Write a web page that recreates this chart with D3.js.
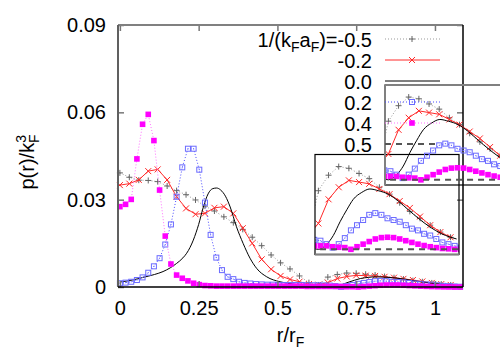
<!DOCTYPE html>
<html>
<head>
<meta charset="utf-8">
<script src="https://cdn.jsdelivr.net/npm/d3@7"></script>
<style>
  body { margin: 0; background: #fff; }
  text { font-family: "Liberation Sans", Arial, sans-serif; }
</style>
</head>
<body>
<div id="chart"></div>
<script>
// r/r_F grids of the data files
var rCoarse = [0, 0.03, 0.06, 0.09, 0.12, 0.15, 0.18, 0.21, 0.24, 0.27, 0.30, 0.33, 0.36, 0.39, 0.42, 0.45, 0.48, 0.51,
  0.54, 0.57, 0.60, 0.63, 0.66, 0.69, 0.72, 0.75, 0.78, 0.81, 0.84, 0.87, 0.90, 0.93, 0.96, 0.99, 1.02, 1.05];
var rFine = [0, 0.018, 0.036, 0.054, 0.072, 0.090, 0.108, 0.126, 0.144, 0.162, 0.180, 0.198, 0.216, 0.234, 0.252,
  0.270, 0.288, 0.306, 0.324, 0.342, 0.360, 0.378, 0.396, 0.414, 0.432, 0.450, 0.468, 0.486, 0.504, 0.522, 0.540,
  0.558, 0.576, 0.594, 0.612, 0.630, 0.648, 0.666, 0.684, 0.702, 0.720, 0.738, 0.756, 0.774, 0.792, 0.810, 0.828,
  0.846, 0.864, 0.882, 0.900, 0.918, 0.936, 0.954, 0.972, 0.990, 1.008, 1.026, 1.044, 1.062, 1.080];
var rSmooth = [0, 0.04, 0.074, 0.11, 0.137, 0.16, 0.18, 0.2, 0.212, 0.233, 0.25, 0.265, 0.28, 0.295, 0.307, 0.32,
  0.335, 0.35, 0.37, 0.391, 0.413, 0.434, 0.466, 0.508, 0.55, 0.593, 0.63, 0.66, 0.685, 0.704, 0.724, 0.744, 0.763,
  0.788, 0.812, 0.837, 0.866, 0.896, 0.925, 0.955, 0.989, 1.024, 1.068];
var rDash = [0.6, 0.7, 0.8, 0.9, 1.0, 1.1];

// p(r)/k_F^3 for each 1/(k_F a_F)
var pMinus05 = [0.0392, 0.0377, 0.0367, 0.0366, 0.0362, 0.0347, 0.0331, 0.0317, 0.0299, 0.0278, 0.0261, 0.0241,
  0.0221, 0.0198, 0.0171, 0.0142, 0.0110, 0.0083, 0.0062, 0.0038, 0.0015, 0.0007, 0.0034, 0.0043, 0.0048, 0.0047,
  0.0044, 0.0041, 0.0036, 0.0032, 0.0027, 0.0022, 0.0018, 0.0014, 0.0010, 0.0007];
var pMinus02 = [0.0350, 0.0355, 0.0368, 0.0398, 0.0404, 0.0368, 0.0310, 0.0270, 0.0250, 0.0253, 0.0272, 0.0276,
  0.0253, 0.0202, 0.0150, 0.0095, 0.0061, 0.0038, 0.0026, 0.0018, 0.0010, 0.0008, 0.0015, 0.0029, 0.0036, 0.0040,
  0.0039, 0.0038, 0.0035, 0.0032, 0.0028, 0.0024, 0.0019, 0.0014, 0.0010, 0.0007];
var pZero = [0.0017, 0.0024, 0.0033, 0.0043, 0.0053, 0.0066, 0.0081, 0.0100, 0.0116, 0.0161, 0.0215, 0.0275,
  0.0320, 0.0338, 0.0340, 0.0333, 0.0312, 0.0275, 0.0207, 0.0150, 0.0099, 0.0064, 0.0035, 0.0018, 0.0010, 0.0006,
  0.0002, 0.0000, 0.0003, 0.0008, 0.0016, 0.0023, 0.0029, 0.0033, 0.0035, 0.0034, 0.0032, 0.0028, 0.0023, 0.0018,
  0.0013, 0.0009, 0.0006];
var pPlus02 = [0.0013, 0.0015, 0.0018, 0.0024, 0.0033, 0.0049, 0.0071, 0.0099, 0.0146, 0.0215,
  0.0310, 0.0411, 0.0475, 0.0475, 0.0403, 0.0290, 0.0179, 0.0101, 0.0058, 0.0035,
  0.0027, 0.0018, 0.0014, 0.0012, 0.0010, 0.0009, 0.0008, 0.0008, 0.0007, 0.0007,
  0.0007, 0.0007, 0.0007, 0.0006, 0.0006, 0.0006,
  0.00055, 0.0005, 0.0003, 0.0001, 0.0003, 0.00065, 0.0011, 0.0014, 0.0017, 0.0020, 0.0021, 0.0020, 0.0018,
  0.0017, 0.0016, 0.0014, 0.0012, 0.0011, 0.0009, 0.0008, 0.0006, 0.0004, 0.0003, 0.0002, 0.0001];
var pPlus04 = [0.0276, 0.0284, 0.0301, 0.0440, 0.0559, 0.0593, 0.0503, 0.0333, 0.0175, 0.0079,
  0.0041, 0.0030, 0.0021, 0.0013, 0.0008, 0.0005, 0.0004, 0.0003, 0.0003, 0.0003,
  0.0003, 0.0003, 0.0003, 0.0003, 0.0003, 0.0003, 0.0003, 0.0003, 0.0003, 0.0003,
  0.0003, 0.0003, 0.0003, 0.0002, 0.0002, 0.0002,
  0.0002, 0.0002, 0.0002, 0.00015, 0.00012, 0.0001, 0, 0.00015, 0.0003, 0.00045, 0.0006, 0.00068, 0.0007,
  0.00068, 0.0006, 0.0005, 0.0004, 0.0003, 0.00022, 0.00015, 0.0001, 0.00005, 0.00003, 0, 0];
var pPlus05 = [0, 0, 0, 0, 0, 0];

var legendLabels = ["-0.5", "-0.2", "0.0", "0.2", "0.4", "0.5"];
var xTicks = [0, 0.25, 0.5, 0.75, 1];
var yTicks = [0, 0.03, 0.06, 0.09];

var width = 500, height = 350;
var mLeft = 118, mRight = 463, mTop = 25, mBottom = 287;

var svg = d3.select("#chart").append("svg")
  .attr("width", width)
  .attr("height", height);

var x = d3.scaleLinear().domain([-0.006, 1.089]).range([mLeft, mRight]);
var y = d3.scaleLinear().domain([0, 0.09]).range([mBottom, mTop]);

function zip(rs, ps) {
  return rs.map(function (r, i) { return [r, ps[i]]; });
}

var series = [
  { r: rCoarse, p: pMinus05, line: "#999", dash: "1,2", mark: "plus", color: "#666" },
  { r: rCoarse, p: pMinus02, line: "#ff2a2a", dash: null, mark: "cross", color: "#ff2a2a" },
  { r: rSmooth, p: pZero, line: "#000", dash: null, mark: null, smooth: true },
  { r: rFine, p: pPlus02, line: "#4b4bff", dash: "1,2", mark: "box", color: "#6b6bff" },
  { r: rFine, p: pPlus04, line: "#ff70ff", dash: "1,2", mark: "fbox", color: "#ff00ff" },
  { r: rDash, p: pPlus05, line: "#555", dash: "6,5", mark: null, width: 2, insetOnly: true }
];

function drawMark(g, kind, color, px, py) {
  if (kind == "plus") {
    g.append("path").attr("d", "M" + (px - 3) + "," + py + "h6M" + px + "," + (py - 3) + "v6")
      .style("stroke", color).style("stroke-width", 1).style("fill", "none");
  } else if (kind == "cross") {
    g.append("path").attr("d", "M" + (px - 3) + "," + (py - 3) + "l6,6M" + (px - 3) + "," + (py + 3) + "l6,-6")
      .style("stroke", color).style("stroke-width", 1).style("fill", "none");
  } else if (kind == "box") {
    g.append("rect").attr("x", px - 2.5).attr("y", py - 2.5).attr("width", 5).attr("height", 5)
      .style("stroke", color).style("stroke-width", 1).style("fill", "none");
    g.append("rect").attr("x", px - 0.5).attr("y", py - 0.5).attr("width", 1).attr("height", 1)
      .style("fill", color);
  } else if (kind == "fbox") {
    g.append("rect").attr("x", px - 2.8).attr("y", py - 2.8).attr("width", 5.6).attr("height", 5.6)
      .style("fill", color);
  }
}

function drawSeries(g, xs, ys, inset) {
  series.forEach(function (s) {
    if (s.insetOnly && !inset) return;
    var pts = zip(s.r, s.p);
    var line = d3.line()
      .x(function (d) { return xs(d[0]); })
      .y(function (d) { return ys(d[1]); })
      .curve(s.smooth ? d3.curveMonotoneX : d3.curveLinear);
    g.append("path")
      .datum(pts)
      .attr("d", line)
      .style("fill", "none")
      .style("stroke", s.line)
      .style("stroke-width", s.width || 1)
      .style("stroke-dasharray", s.dash);
    if (s.mark) {
      var mg = g.append("g");
      pts.forEach(function (d) {
        drawMark(mg, s.mark, s.color, xs(d[0]), ys(d[1]));
      });
    }
  });
}

// main curves
drawSeries(svg.append("g"), x, y, false);

// axes
var tickColor = "#777";
var axB = svg.append("g").attr("transform", "translate(0," + mBottom + ")")
  .call(d3.axisBottom(x).tickValues(xTicks).tickSize(-6).tickPadding(14).tickFormat(function (d) { return String(d); }));
var axT = svg.append("g").attr("transform", "translate(0," + mTop + ")")
  .call(d3.axisTop(x).tickValues(xTicks).tickSize(-6).tickFormat(""));
var axL = svg.append("g").attr("transform", "translate(" + mLeft + ",0)")
  .call(d3.axisLeft(y).tickValues(yTicks).tickSize(-6).tickPadding(12)
    .tickFormat(function (d) { return d === 0 ? "0" : d3.format(".2f")(d); }));
var axR = svg.append("g").attr("transform", "translate(" + mRight + ",0)")
  .call(d3.axisRight(y).tickValues(yTicks).tickSize(-6).tickFormat(""));
[axB, axT, axL, axR].forEach(function (a) {
  a.select(".domain").remove();
  a.selectAll(".tick line").style("stroke", tickColor).style("stroke-width", 1.5);
  a.selectAll("text").style("font-size", "20px").style("fill", "#000")
    .style("font-family", "'Liberation Sans', Arial, sans-serif");
});

// frame
svg.append("line").attr("x1", mLeft).attr("x2", mRight).attr("y1", mTop).attr("y2", mTop)
  .style("stroke", "#808080").style("stroke-width", 2);
svg.append("line").attr("x1", mLeft).attr("x2", mLeft).attr("y1", mTop).attr("y2", mBottom)
  .style("stroke", "#606060").style("stroke-width", 2);
svg.append("line").attr("x1", mRight).attr("x2", mRight).attr("y1", mTop).attr("y2", mBottom)
  .style("stroke", "#000").style("stroke-width", 1.5);
svg.append("line").attr("x1", mLeft).attr("x2", mRight).attr("y1", mBottom).attr("y2", mBottom)
  .style("stroke", "#000").style("stroke-width", 1.5);

// axis titles
var xt = svg.append("text").attr("x", (mLeft + mRight) / 2).attr("y", 342)
  .attr("text-anchor", "middle").style("font-size", "20px");
xt.append("tspan").text("r/r");
xt.append("tspan").attr("dy", 5).style("font-size", "14px").text("F");

var yt = svg.append("text").attr("transform", "translate(34," + 162 + ") rotate(-90)")
  .attr("text-anchor", "middle").style("font-size", "20px");
yt.append("tspan").text("p(r)/k");
yt.append("tspan").attr("dy", -8).style("font-size", "14px").text("3");
yt.append("tspan").attr("dx", -8).attr("dy", 13).style("font-size", "14px").text("F");

// insets: same tail region drawn twice
function drawInset(ox, oy, grayTop, grayLeft, grayBottom) {
  var w = 144, h = 100;
  var xs = d3.scaleLinear().domain([0.65, 1.075]).range([ox, ox + w]);
  var ys = d3.scaleLinear().domain([-0.0003, 0.0055]).range([oy + h, oy]);
  var id = "clip" + ox;
  svg.append("clipPath").attr("id", id).append("rect")
    .attr("x", ox).attr("y", oy).attr("width", w).attr("height", h);
  var g = svg.append("g").attr("clip-path", "url(#" + id + ")");
  drawSeries(g, xs, ys, true);
  svg.append("rect").attr("x", ox).attr("y", oy).attr("width", w).attr("height", h)
    .style("fill", "none").style("stroke", "#000").style("stroke-width", 1.2);
  if (grayTop) svg.append("line").attr("x1", ox).attr("x2", ox + w).attr("y1", oy).attr("y2", oy)
    .style("stroke", "#808080").style("stroke-width", 2);
  if (grayLeft) svg.append("line").attr("x1", ox).attr("x2", ox).attr("y1", oy).attr("y2", oy + h)
    .style("stroke", "#808080").style("stroke-width", 2);
  if (grayBottom) svg.append("line").attr("x1", ox).attr("x2", ox + w).attr("y1", oy + h).attr("y2", oy + h)
    .style("stroke", "#808080").style("stroke-width", 2);
}
drawInset(315, 154.5, false, false, true);
drawInset(385, 85, true, true, false);

// legend
var legend = svg.append("g");
series.forEach(function (s, i) {
  var ly = 39 + 21 * i;
  var t = legend.append("text").attr("x", 372).attr("y", ly + 7.5)
    .attr("text-anchor", "end").style("font-size", "20px");
  if (i == 0) {
    t.append("tspan").text("1/(k");
    t.append("tspan").attr("dy", 5).style("font-size", "14px").text("F");
    t.append("tspan").attr("dy", -5).text("a");
    t.append("tspan").attr("dy", 5).style("font-size", "14px").text("F");
    t.append("tspan").attr("dy", -5).text(")=" + legendLabels[i]);
  } else {
    t.text(legendLabels[i]);
  }
  legend.append("line").attr("x1", 385).attr("x2", 440).attr("y1", ly).attr("y2", ly)
    .style("stroke", s.line).style("stroke-width", s.width || 1).style("stroke-dasharray", s.dash);
  if (s.mark) drawMark(legend, s.mark, s.color, 412, ly);
});
</script>
</body>
</html>
